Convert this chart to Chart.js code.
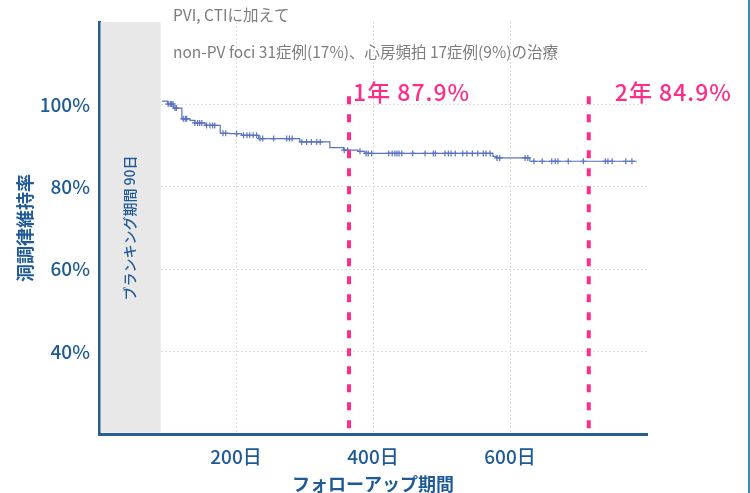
<!DOCTYPE html>
<html>
<head>
<meta charset="utf-8">
<script src="https://cdn.jsdelivr.net/npm/chart.js@4.4.1/dist/chart.umd.min.js"></script>
<style>
  html, body { margin: 0; padding: 0; background: #fff; }
  #wrap { position: relative; width: 750px; height: 493px; }
  #edge { position: absolute; left: 748px; top: 0; width: 2px; height: 493px; background: #3b8bb5; }
</style>
</head>
<body>
<div id="wrap">
  <canvas id="kmChart" width="750" height="493"></canvas>
  <div id="edge"></div>
</div>
<script>
// Kaplan-Meier steps: day of each drop and survival after it (%)
const kmDays = [92, 100, 109, 121, 133, 140, 155, 177, 191, 208, 233, 293, 337, 357, 378, 388, 575, 581, 629, 785];
const kmSurv = [100.8, 100.1, 99.1, 96.5, 96.1, 95.5, 94.9, 93.0, 92.9, 92.5, 91.7, 90.9, 89.5, 88.9, 88.6, 88.1, 87.4, 87.0, 86.2, 86.2];

// censored cases (days)
const censorDays = [101, 104, 106, 108, 111, 113, 123, 126, 128, 140, 144, 147, 150, 157, 162, 166, 169,
  181, 185, 201, 211, 216, 220, 225, 230, 235, 239, 255, 274, 278, 282, 296, 303, 310, 318, 323,
  358, 363, 381, 390, 393, 398, 423, 428, 432, 435, 438, 442, 458, 476, 488, 491, 505, 510, 514, 520,
  531, 537, 545, 553, 561, 565, 571, 581, 585, 622, 626, 635, 647, 661, 666, 670, 685, 707, 739, 743,
  749, 769, 778];

// ticks
const xTicks = [200, 400, 600];
const yTicks = [40, 60, 80, 100];

// reference lines
const markDays = [365, 715];
const markLabels = ['1年 87.9%', '2年 84.9%'];
const blankingDays = 90;
const titleLines = ['PVI, CTIに加えて', 'non-PV foci 31症例(17%)、心房頻拍 17症例(9%)の治療'];

const blue = '#1f5a96';
const curveColor = '#5a72c0';
const pink = '#ff2d8a';
const jp = '"Noto Sans CJK JP", "Noto Sans", sans-serif';

function survAt(day) {
  let s = kmSurv[0];
  for (let i = 0; i < kmDays.length; i++) {
    if (kmDays[i] <= day) s = kmSurv[i];
  }
  return s;
}

const kmPoints = kmDays.map((d, i) => ({x: d, y: kmSurv[i]}));
const censorPoints = censorDays.map(d => ({x: d, y: survAt(d)}));

const extras = {
  id: 'extras',
  beforeDatasetsDraw(chart) {
    const {ctx, chartArea, scales: {x}} = chart;
    // blanking period
    const x0 = chartArea.left + 1.5;
    const x1 = x.getPixelForValue(blankingDays);
    ctx.save();
    ctx.fillStyle = '#e8e8e8';
    ctx.fillRect(x0, chartArea.top, x1 - x0, chartArea.bottom - chartArea.top - 1.5);
    ctx.translate((x0 + x1) / 2 - 1, (chartArea.top + chartArea.bottom) / 2);
    ctx.rotate(-Math.PI / 2);
    ctx.fillStyle = blue;
    ctx.font = '500 14px ' + jp;
    ctx.textAlign = 'center';
    ctx.textBaseline = 'middle';
    ctx.fillText('ブランキング期間 90日', 0, 0);
    ctx.restore();
  },
  afterDatasetsDraw(chart) {
    const {ctx, chartArea, scales: {x, y}} = chart;
    ctx.save();
    // dashed year lines
    ctx.strokeStyle = pink;
    ctx.lineWidth = 4;
    ctx.setLineDash([8, 10]);
    markDays.forEach(d => {
      const px = x.getPixelForValue(d);
      ctx.beginPath();
      ctx.moveTo(px, y.getPixelForValue(102));
      ctx.lineTo(px, chartArea.bottom - 2);
      ctx.stroke();
    });
    ctx.setLineDash([]);
    // labels (second one sits a bit further right of its line)
    const labelShift = [4, 26];
    ctx.fillStyle = pink;
    ctx.font = '500 23px ' + jp;
    ctx.letterSpacing = '1px';
    ctx.textBaseline = 'middle';
    markDays.forEach((d, i) => {
      ctx.fillText(markLabels[i], x.getPixelForValue(d) + labelShift[i], 92);
    });
    ctx.letterSpacing = '0px';
    // header text
    ctx.fillStyle = '#7d7d7d';
    ctx.font = '15.5px ' + jp;
    ctx.fillText(titleLines[0], 173, 15);
    ctx.fillText(titleLines[1], 173, 52);
    ctx.restore();
  }
};

const ctx = document.getElementById('kmChart');
new Chart(ctx, {
  type: 'line',
  data: {
    datasets: [
      {
        data: kmPoints,
        stepped: true,
        borderColor: curveColor,
        borderWidth: 1.2,
        pointRadius: 0,
        fill: false
      },
      {
        data: censorPoints,
        showLine: false,
        pointStyle: 'cross',
        pointRadius: 3,
        borderColor: curveColor,
        borderWidth: 1.2,
        backgroundColor: curveColor
      }
    ]
  },
  options: {
    responsive: false,
    animation: false,
    layout: { padding: { left: 0, right: 103, top: 22, bottom: 0 } },
    plugins: { legend: { display: false }, tooltip: { enabled: false } },
    scales: {
      x: {
        type: 'linear',
        min: 0,
        max: 800,
        afterFit(scale) { scale.height = 59; },
        afterBuildTicks(scale) { scale.ticks = xTicks.map(v => ({value: v})); },
        grid: { color: '#dcdcdc', lineWidth: 1, drawTicks: false },
        border: { color: '#2a5d96', width: 3, dash: [2, 2] },
        ticks: {
          padding: 11,
          color: blue,
          font: { family: jp, size: 19, weight: '500' },
          callback: v => v + '日'
        },
        title: {
          display: true,
          text: 'フォローアップ期間',
          color: blue,
          font: { family: jp, size: 18, weight: 'bold', lineHeight: 1 },
          padding: 0
        }
      },
      y: {
        min: 20,
        max: 120,
        afterFit(scale) { scale.width = 99; },
        afterBuildTicks(scale) { scale.ticks = yTicks.map(v => ({value: v})); },
        grid: { color: '#dcdcdc', lineWidth: 1, drawTicks: false },
        border: { color: '#2a5d96', width: 3, dash: [2, 2] },
        ticks: {
          padding: 9,
          color: blue,
          font: { family: jp, size: 19, weight: '500' },
          callback: v => v + '%'
        },
        title: {
          display: true,
          text: '洞調律維持率',
          color: blue,
          font: { family: jp, size: 18, weight: 'bold' },
          padding: { top: 14, bottom: 0 }
        }
      }
    }
  },
  plugins: [extras]
});
</script>
</body>
</html>
